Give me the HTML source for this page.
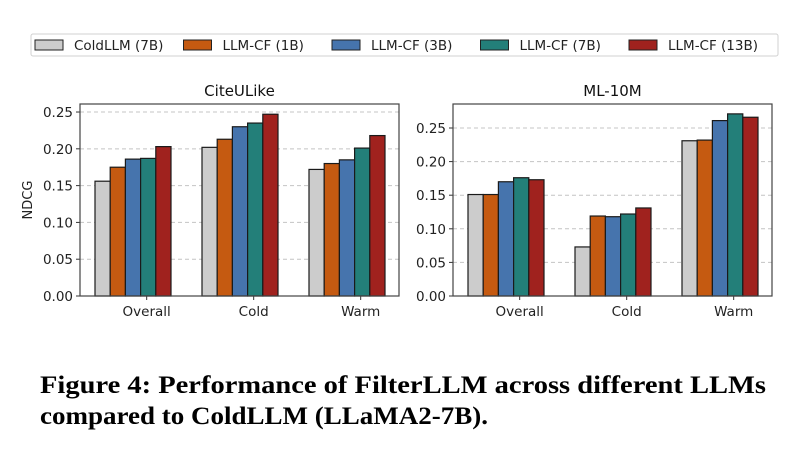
<!DOCTYPE html>
<html><head><meta charset="utf-8"><style>
body{margin:0;background:#fff;}
svg{display:block;font-family:"DejaVu Sans","Liberation Sans",sans-serif;}
</style></head><body>
<svg id="fig" width="804" height="450" viewBox="0 0 804 450">
<rect width="804" height="450" fill="#fff"/>
<g id="legend"></g>
<g id="p1"></g>
<g id="p2"></g>
<text x="40" y="393" font-family="Liberation Serif, serif" font-weight="bold" font-size="25" textLength="726" lengthAdjust="spacingAndGlyphs">Figure 4: Performance of FilterLLM across different LLMs</text>
<text x="40" y="424" font-family="Liberation Serif, serif" font-weight="bold" font-size="25" textLength="448" lengthAdjust="spacingAndGlyphs">compared to ColdLLM (LLaMA2-7B).</text>
</svg>
<script>
const series = ["ColdLLM (7B)","LLM-CF (1B)","LLM-CF (3B)","LLM-CF (7B)","LLM-CF (13B)"];
const colors = ["#cccccc","#c55a11","#4674ad","#237f79","#a0221e"];
const categories = ["Overall","Cold","Warm"];
const citeValues = [[0.156,0.202,0.172],[0.175,0.213,0.180],[0.186,0.230,0.185],[0.187,0.235,0.201],[0.203,0.247,0.218]];
const mlValues = [[0.151,0.073,0.231],[0.151,0.119,0.232],[0.170,0.118,0.261],[0.176,0.122,0.271],[0.173,0.131,0.266]];
const yTicks = ["0.00","0.05","0.10","0.15","0.20","0.25"];
const NS="http://www.w3.org/2000/svg";
function mk(p,t,a){const e=document.createElementNS(NS,t);for(const k in a)e.setAttribute(k,a[k]);p.appendChild(e);return e;}

const lg=document.getElementById('legend');
const lbox=mk(lg,'rect',{x:31,y:34,width:747,height:22,rx:2,fill:'#fff',stroke:'#d0d0d0'});


series.forEach((s,i)=>{
  const x=35+i*148.5;
  const r=mk(lg,'rect',{x:x,y:40,width:28,height:10,fill:colors[i],stroke:'#222','stroke-width':1});
  
  
  const t=mk(lg,'text',{x:x+39,y:50,'font-size':13.5,fill:'#222'});
  t.textContent=s;
  
  
});

function panel(g,title,vals,L,R,T,B,ymax,groupLeft,gap,showYLabel){
  const y=v=>B-(v/ymax)*(B-T);
  const t=mk(g,'text',{x:(L+R)/2,y:T-8,'text-anchor':'middle','font-size':15,fill:'#111'});
  t.textContent=title;
  
  
  yTicks.forEach(s=>{
    const v=parseFloat(s),yy=y(v);
    if(v>0){const gl=mk(g,'line',{x1:L,x2:R,y1:yy,y2:yy,stroke:'#c4c4c4','stroke-dasharray':'4,3'});
      
      }
    mk(g,'line',{x1:L-4,x2:L,y1:yy,y2:yy,stroke:'#333'});
    const tl=mk(g,'text',{x:L-7,y:yy+5,'text-anchor':'end','font-size':13.5,fill:'#222'});
    tl.textContent=s;
    
    
  });
  const bw=15.2;
  categories.forEach((c,ci)=>{
    const gx=groupLeft+ci*gap;
    vals.forEach((sv,si)=>{
      const v=sv[ci];
      const b=mk(g,'rect',{x:gx+si*bw,y:y(v),width:bw,height:B-y(v),fill:colors[si],stroke:'#1a1a1a','stroke-width':1.2});
      
      
    });
    const tx=gx+bw*3.4;
    mk(g,'line',{x1:tx,x2:tx,y1:B,y2:B+4,stroke:'#333'});
    const xl=mk(g,'text',{x:tx,y:B+20,'text-anchor':'middle','font-size':13.5,fill:'#222'});
    xl.textContent=c;
    
    
  });
  const fr=mk(g,'rect',{x:L,y:T,width:R-L,height:B-T,fill:'none',stroke:'#444','stroke-width':1.2});
  
  
  if(showYLabel){
    const yl=mk(g,'text',{x:0,y:0,'text-anchor':'middle','font-size':13,fill:'#222',transform:'translate(32,'+((T+B)/2)+') rotate(-90)'});
    yl.textContent='NDCG';
    
    
  }
}
panel(document.getElementById('p1'),'CiteULike',citeValues,80,399,104,296,0.2609,95,107,true);
panel(document.getElementById('p2'),'ML-10M',mlValues,453,772,104,296,0.2857,468,107,false);
</script>
</body></html>
